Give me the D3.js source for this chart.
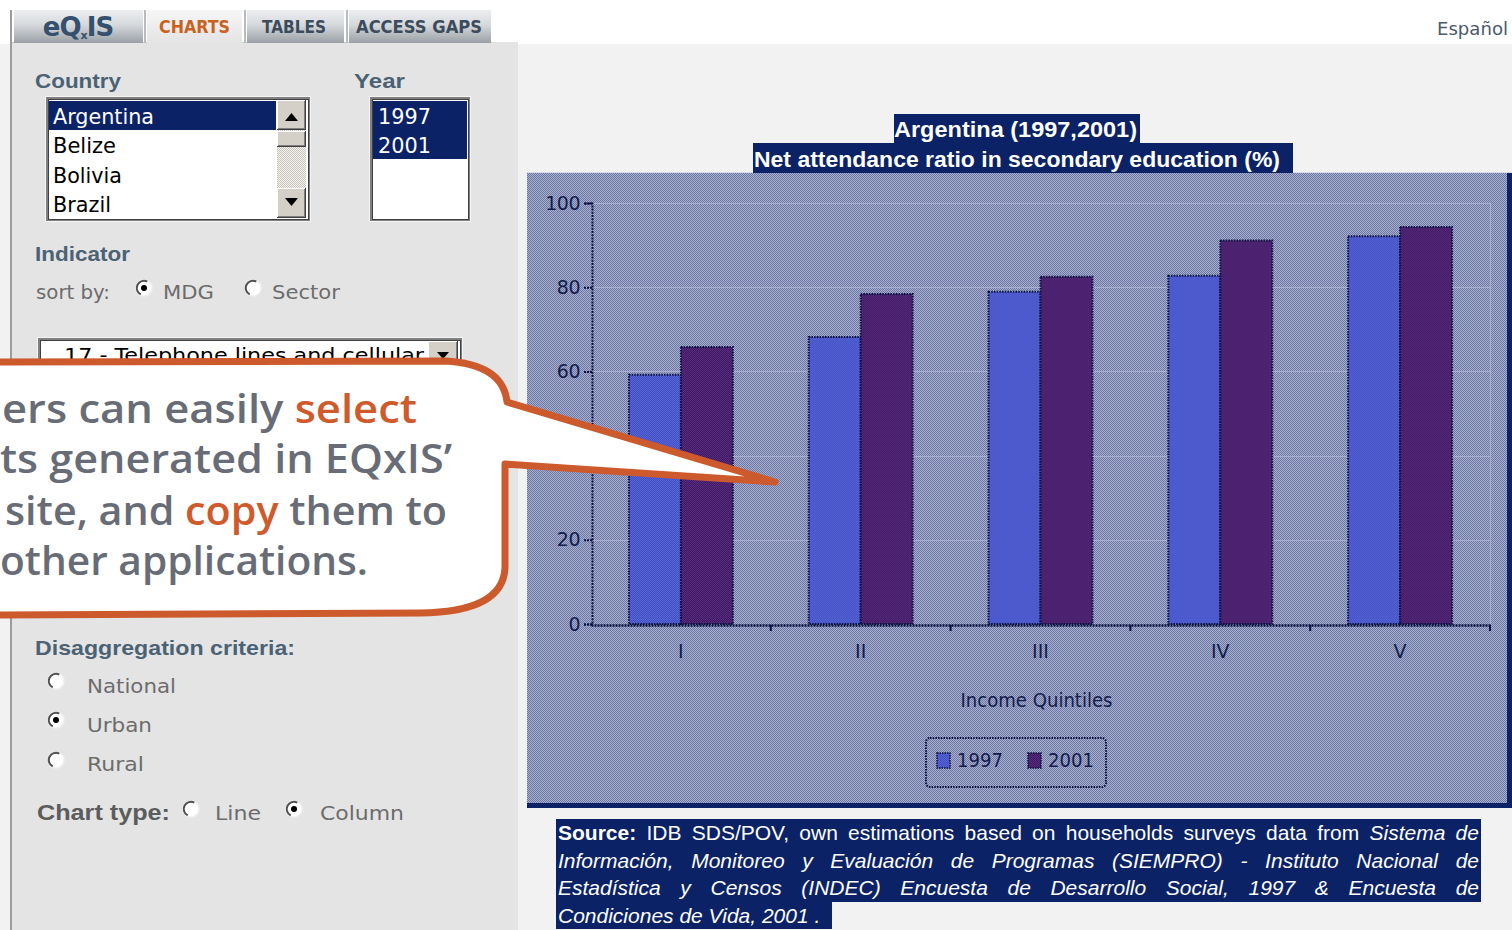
<!DOCTYPE html>
<html><head><meta charset="utf-8">
<script src="https://cdn.jsdelivr.net/npm/d3@7"></script>
<style>
html,body{margin:0;padding:0;width:1512px;height:930px;overflow:hidden;background:#f2f2f2;}
#root{position:relative;width:1512px;height:930px;}
svg{position:absolute;left:0;top:0;}
#src{position:absolute;left:556px;top:819px;width:925px;font-family:"Liberation Sans",Arial,sans-serif;font-size:21px;line-height:27.5px;color:#fff;}
#src .ln{background:#0b2266;text-align:justify;text-align-last:justify;padding:0 2px;white-space:nowrap;}
#src .last{display:inline-block;background:#0b2266;width:272px;padding:0 2px;white-space:nowrap;}
</style></head>
<body><div id="root"></div>
<script>
// ---------- data ----------
const categories = ["I", "II", "III", "IV", "V"];
const series = ["1997", "2001"];
const values1997 = [59.2, 68.2, 78.9, 82.7, 92.1];
const values2001 = [65.8, 78.4, 82.5, 91.1, 94.3];
const yTicks = [0, 20, 40, 60, 80, 100];
const chartTitle = ["Argentina (1997,2001)", "Net attendance ratio in secondary education (%)"];
const xAxisTitle = "Income Quintiles";
const countries = ["Argentina", "Belize", "Bolivia", "Brazil"];
const years = ["1997", "2001"];
const tabs = ["CHARTS", "TABLES", "ACCESS GAPS"];
const calloutLines = [
  [["ers can easily ", 0], ["select", 1]],
  [["ts generated in EQxIS’", 0]],
  [["site, and ", 0], ["copy", 1], [" them to", 0]],
  [["other applications.", 0]]
];
const sourceLines = [
  [["Source:", "b"], [" IDB SDS/POV, own estimations based on households surveys data from ", "n"], ["Sistema de", "i"]],
  [["Información, Monitoreo y Evaluación de Programas (SIEMPRO) - Instituto Nacional de", "i"]],
  [["Estadística y Censos (INDEC) Encuesta de Desarrollo Social, 1997 & Encuesta de", "i"]],
  [["Condiciones de Vida, 2001 .", "i"]]
];

const W = 1512, H = 930;
const root = d3.select("#root");
const svg = root.append("svg").attr("width", W).attr("height", H);
const defs = svg.append("defs");

function dither(id, c1, c2) {
  const p = defs.append("pattern").attr("id", id).attr("patternUnits", "userSpaceOnUse")
    .attr("width", 2).attr("height", 2);
  p.append("rect").attr("width", 2).attr("height", 2).attr("fill", c2).attr("shape-rendering", "crispEdges");
  p.append("rect").attr("width", 1).attr("height", 1).attr("fill", c1).attr("shape-rendering", "crispEdges");
  p.append("rect").attr("x", 1).attr("y", 1).attr("width", 1).attr("height", 1).attr("fill", c1).attr("shape-rendering", "crispEdges");
}
dither("bgPat", "#6e78a6", "#a8afcc");
dither("bluePat", "#4250c4", "#5664d6");
dither("purplePat", "#3e1a62", "#5a2a7e");
dither("trackPat", "#c8c4bc", "#f4f2ee");

const tabGrad = defs.append("linearGradient").attr("id", "tabGrad").attr("x1", 0).attr("y1", 0).attr("x2", 0).attr("y2", 1);
tabGrad.append("stop").attr("offset", 0).attr("stop-color", "#eceef0");
tabGrad.append("stop").attr("offset", 0.45).attr("stop-color", "#d6d9dc");
tabGrad.append("stop").attr("offset", 1).attr("stop-color", "#9aa0a6");
const selGrad = defs.append("linearGradient").attr("id", "selGrad").attr("x1", 0).attr("y1", 0).attr("x2", 0).attr("y2", 1);
selGrad.append("stop").attr("offset", 0).attr("stop-color", "#f6f6f6");
selGrad.append("stop").attr("offset", 1).attr("stop-color", "#e4e4e4");

function txt(g, s, x, y, o) {
  o = o || {};
  const t = g.append("text").attr("x", x).attr("y", y).text(s)
    .attr("font-family", o.ff || "'DejaVu Sans', Verdana, sans-serif")
    .attr("font-size", o.fs || 20)
    .attr("font-weight", o.fw || "normal")
    .attr("fill", o.fill || "#6c6c6c");
  if (o.w) t.attr("textLength", o.w).attr("lengthAdjust", "spacingAndGlyphs");
  if (o.anchor) t.attr("text-anchor", o.anchor);
  if (o.fstyle) t.attr("font-style", o.fstyle);
  return t;
}

// ---------- page background ----------
svg.append("rect").attr("x", 0).attr("y", 0).attr("width", W).attr("height", 44).attr("fill", "#ffffff");
svg.append("rect").attr("x", 12).attr("y", 42).attr("width", 506).attr("height", H - 42).attr("fill", "#e4e4e4");
svg.append("rect").attr("x", 10).attr("y", 10).attr("width", 2).attr("height", H - 10).attr("fill", "#9c9c9c");
svg.append("rect").attr("x", 12).attr("y", 42).attr("width", 480).attr("height", 1).attr("fill", "#c8c8c8");

// tabs
const tabG = svg.append("g");
tabG.append("rect").attr("x", 14).attr("y", 10).attr("width", 129).attr("height", 33).attr("fill", "url(#tabGrad)");
const logo = tabG.append("text").attr("x", 78).attr("y", 36).attr("text-anchor", "middle")
  .attr("font-family", "'DejaVu Sans', sans-serif").attr("font-weight", "bold").attr("font-size", 26)
  .attr("fill", "#34506e").attr("letter-spacing", -1);
logo.append("tspan").text("eQ");
logo.append("tspan").text("x").attr("font-size", 11).attr("dy", 3);
logo.append("tspan").text("IS").attr("dy", -3);
const tabPos = [[147, 95, 159, 71], [247, 97, 262, 64], [349, 142, 356, 126]];
tabs.forEach((t, i) => {
  const p = tabPos[i];
  tabG.append("rect").attr("x", p[0]).attr("y", 10).attr("width", p[1]).attr("height", 33)
    .attr("fill", i === 0 ? "url(#selGrad)" : "url(#tabGrad)");
  tabG.append("rect").attr("x", p[0] - 3).attr("y", 10).attr("width", 2).attr("height", 33).attr("fill", "#b8bcc0");
  txt(tabG, t, p[2], 33, {fs: 17, fw: "bold", fill: i === 0 ? "#c8621f" : "#3c4c5c", w: p[3]});
});
txt(svg, "Español", 1437, 35, {fs: 17, fill: "#4a5a6a", w: 71});

// ---------- left panel ----------
const lp = svg.append("g");
const head = {fs: 21, fw: "bold", fill: "#4b6275", ff: "'Liberation Sans', Arial, sans-serif"};
txt(lp, "Country", 35, 88, Object.assign({w: 86}, head));
txt(lp, "Year", 354, 88, Object.assign({w: 51}, head));
txt(lp, "Indicator", 35, 261, Object.assign({w: 95}, head));
txt(lp, "Disaggregation criteria:", 35, 655, Object.assign({w: 260}, head));
txt(lp, "Chart type:", 37, 820, {fs: 22, fw: "bold", fill: "#5c5c5c", ff: "'Liberation Sans', Arial, sans-serif", w: 133});

function inset(g, x, y, w, h) {
  g.append("rect").attr("x", x).attr("y", y).attr("width", w).attr("height", h).attr("fill", "#f4f4f4");
  g.append("rect").attr("x", x + 1).attr("y", y + 1).attr("width", w - 2).attr("height", h - 2).attr("fill", "#808080");
  g.append("rect").attr("x", x + 3).attr("y", y + 3).attr("width", w - 5).attr("height", h - 5).attr("fill", "#404040");
  g.append("rect").attr("x", x + 4).attr("y", y + 4).attr("width", w - 7).attr("height", h - 7).attr("fill", "#ffffff");
}
function button(g, x, y, w, h) {
  g.append("rect").attr("x", x).attr("y", y).attr("width", w).attr("height", h).attr("fill", "#404040");
  g.append("rect").attr("x", x).attr("y", y).attr("width", w - 1).attr("height", h - 1).attr("fill", "#ffffff");
  g.append("rect").attr("x", x + 1).attr("y", y + 1).attr("width", w - 2).attr("height", h - 2).attr("fill", "#808080");
  g.append("rect").attr("x", x + 1).attr("y", y + 1).attr("width", w - 3).attr("height", h - 3).attr("fill", "#d4d0c8");
}
// country list
inset(lp, 45, 96, 266, 126);
lp.append("rect").attr("x", 49).attr("y", 101).attr("width", 227).attr("height", 29).attr("fill", "#0b2266");
const cw = [101, 63, 69, 58];
countries.forEach((c, i) => {
  txt(lp, c, 53, 124 + i * 29.4, {fs: 21, fill: i === 0 ? "#ffffff" : "#000000", w: cw[i]});
});
lp.append("rect").attr("x", 277).attr("y", 100).attr("width", 29).attr("height", 118).attr("fill", "url(#trackPat)");
button(lp, 277, 100, 29, 30);
button(lp, 277, 131, 29, 16);
button(lp, 277, 188, 29, 30);
lp.append("path").attr("d", "M285,121 L298,121 L291.5,113 Z").attr("fill", "#000");
lp.append("path").attr("d", "M285,198 L298,198 L291.5,206 Z").attr("fill", "#000");
// year list
inset(lp, 369, 96, 102, 126);
lp.append("rect").attr("x", 373).attr("y", 101).attr("width", 94).attr("height", 58).attr("fill", "#0b2266");
years.forEach((y, i) => txt(lp, y, 378, 124 + i * 29.4, {fs: 21, fill: "#ffffff", w: 53}));

// radios
function radio(g, cx, cy, checked) {
  g.append("circle").attr("cx", cx).attr("cy", cy).attr("r", 8).attr("fill", "#ffffff").attr("stroke", "#f0f0f0").attr("stroke-width", 1.5);
  const arc = d3.arc().innerRadius(6.2).outerRadius(8.2).startAngle(-Math.PI * 0.85).endAngle(Math.PI * 0.15);
  g.append("path").attr("d", arc()).attr("transform", `translate(${cx},${cy})`).attr("fill", "#505050");
  if (checked) g.append("circle").attr("cx", cx).attr("cy", cy).attr("r", 3).attr("fill", "#000");
}
txt(lp, "sort by:", 36, 299, {w: 74});
radio(lp, 144, 288, true); txt(lp, "MDG", 163, 299, {w: 51});
radio(lp, 253, 288, false); txt(lp, "Sector", 272, 299, {w: 68});
// dropdown (mostly hidden by callout)
inset(lp, 37, 337, 426, 34);
txt(lp, "17 - Telephone lines and cellular", 64, 362, {fs: 20, fill: "#000", w: 360});
button(lp, 428, 341, 30, 28);
lp.append("path").attr("d", "M437,352 L449,352 L443,359 Z").attr("fill", "#000");

radio(lp, 56, 681, false); txt(lp, "National", 87, 693, {w: 89});
radio(lp, 56, 720, true);  txt(lp, "Urban", 87, 732, {w: 65});
radio(lp, 56, 760, false); txt(lp, "Rural", 87, 771, {w: 57});
radio(lp, 191, 809, false); txt(lp, "Line", 215, 820, {w: 46});
radio(lp, 294, 809, true);  txt(lp, "Column", 320, 820, {w: 84});

// ---------- chart ----------
const cg = svg.append("g");
cg.append("rect").attr("x", 527).attr("y", 173).attr("width", W - 527).attr("height", 635).attr("fill", "url(#bgPat)");
cg.append("rect").attr("x", 527).attr("y", 803).attr("width", W - 527).attr("height", 5).attr("fill", "#0b2266");
cg.append("rect").attr("x", 1507).attr("y", 173).attr("width", 5).attr("height", 635).attr("fill", "#0b2266");
cg.append("rect").attr("x", 527).attr("y", 172).attr("width", W - 527).attr("height", 1).attr("fill", "#d8dce6");

// title
const tg = svg.append("g");
tg.append("rect").attr("x", 894).attr("y", 114).attr("width", 246).attr("height", 30).attr("fill", "#0b2266");
tg.append("rect").attr("x", 753).attr("y", 143).attr("width", 540).attr("height", 30).attr("fill", "#0b2266");
txt(tg, chartTitle[0], 894, 137, {fs: 22, fw: "bold", fill: "#fff", ff: "'Liberation Sans', Arial, sans-serif", w: 243});
txt(tg, chartTitle[1], 754, 167, {fs: 22, fw: "bold", fill: "#fff", ff: "'Liberation Sans', Arial, sans-serif", w: 526});

const x0 = d3.scaleBand().domain(categories).range([591, 1490]).paddingInner(0).paddingOuter(0);
const x1 = d3.scaleBand().domain(series).range([0, x0.bandwidth()]).paddingInner(0).paddingOuter(0.73);
const y = d3.scaleLinear().domain([0, 100]).range([624, 203]);
const color = {"1997": "url(#bluePat)", "2001": "url(#purplePat)"};
const inkDark = "#0a1040";
const labelInk = "#141c4c";

// grid
cg.selectAll("line.grid").data(yTicks.filter(d => d > 0)).join("line").attr("class", "grid")
  .attr("x1", 593).attr("x2", 1490).attr("y1", d => Math.round(y(d)) + 0.5).attr("y2", d => Math.round(y(d)) + 0.5)
  .attr("stroke", "#b4bcd8").attr("stroke-opacity", 0.7);
cg.append("line").attr("x1", 1490.5).attr("x2", 1490.5).attr("y1", y(100)).attr("y2", y(0))
  .attr("stroke", "#b4bcd8").attr("stroke-opacity", 0.7);

// bars
const rows = categories.map((c, i) => ({cat: c, vals: [{s: "1997", v: values1997[i]}, {s: "2001", v: values2001[i]}]}));
const grp = cg.selectAll("g.grp").data(rows).join("g").attr("class", "grp")
  .attr("transform", d => `translate(${x0(d.cat)},0)`);
grp.selectAll("rect").data(d => d.vals).join("rect")
  .attr("x", d => x1(d.s)).attr("width", x1.bandwidth())
  .attr("y", d => y(d.v)).attr("height", d => y(0) - y(d.v))
  .attr("fill", d => color[d.s])
  .attr("stroke", inkDark).attr("stroke-width", 2).attr("stroke-dasharray", "1.5,1.2");

// y axis
const yAxis = d3.axisLeft(y).tickValues(yTicks).tickSize(8).tickPadding(4);
const yg = cg.append("g").attr("transform", "translate(592,0)").call(yAxis);
yg.select(".domain").attr("stroke", inkDark).attr("stroke-width", 2).attr("stroke-dasharray", "2,1.2");
yg.selectAll(".tick line").attr("stroke", inkDark).attr("stroke-width", 2).attr("stroke-dasharray", "2,1");
yg.selectAll(".tick text").attr("font-family", "'DejaVu Sans', sans-serif").attr("font-size", 19)
  .attr("fill", labelInk).attr("letter-spacing", -0.5);

// x axis
const xAxis = d3.axisBottom(x0).tickSize(0).tickPadding(20);
const xg = cg.append("g").attr("transform", `translate(0,${y(0) + 1})`).call(xAxis);
xg.select(".domain").attr("stroke", inkDark).attr("stroke-width", 2.5).attr("stroke-dasharray", "2,1");
xg.selectAll(".tick text").attr("font-family", "'DejaVu Sans', sans-serif").attr("font-size", 19)
  .attr("fill", labelInk);
cg.selectAll("line.xt").data(categories).join("line").attr("class", "xt")
  .attr("x1", d => x0(d) + x0.bandwidth()).attr("x2", d => x0(d) + x0.bandwidth())
  .attr("y1", y(0) + 1).attr("y2", y(0) + 7).attr("stroke", inkDark).attr("stroke-width", 2);
txt(cg, xAxisTitle, (x0.range()[0] + x0.range()[1]) / 2 - 4, 707, {fs: 19, fill: labelInk, anchor: "middle", w: 152});

// legend
const lg = cg.append("g");
lg.append("rect").attr("x", 926).attr("y", 738).attr("width", 180).attr("height", 49).attr("rx", 4)
  .attr("fill", "none").attr("stroke", inkDark).attr("stroke-width", 2).attr("stroke-dasharray", "1.5,1.2");
const legX = [937, 1028];
series.forEach((s, i) => {
  lg.append("rect").attr("x", legX[i]).attr("y", 753).attr("width", 13).attr("height", 15)
    .attr("fill", color[s]).attr("stroke", inkDark).attr("stroke-width", 1.5).attr("stroke-dasharray", "1.5,1");
  txt(lg, s, legX[i] + 20, 767, {fs: 19, fill: labelInk, w: 46});
});

// ---------- callout ----------
const co = svg.append("g");
co.append("path")
  .attr("d", "M-10,362 L445,361 Q503,364 507,402 L775,482 L505,464 L505,568 Q503,612 420,613 L-10,615 Z")
  .attr("fill", "#ffffff").attr("stroke", "#cd5a2c").attr("stroke-width", 7).attr("stroke-linejoin", "round");
const coPos = [[2, 423, 415], [0, 473, 452], [5, 525, 442], [0, 575, 368]];
calloutLines.forEach((ln, i) => {
  const t = co.append("text").attr("x", coPos[i][0]).attr("y", coPos[i][1])
    .attr("font-family", "'Open Sans', 'Noto Sans', sans-serif").attr("font-weight", 600).attr("font-size", 40)
    .attr("textLength", coPos[i][2]).attr("lengthAdjust", "spacingAndGlyphs");
  ln.forEach(seg => t.append("tspan").text(seg[0]).attr("fill", seg[1] ? "#cf5a2b" : "#686c76"));
});

// ---------- source ----------
const src = root.append("div").attr("id", "src");
sourceLines.forEach((ln, i) => {
  const d = src.append("div").attr("class", i < sourceLines.length - 1 ? "ln" : "last");
  ln.forEach(seg => {
    const sp = d.append("span").text(seg[0]);
    if (seg[1] === "b") sp.style("font-weight", "bold");
    if (seg[1] === "i") sp.style("font-style", "italic");
  });
});
</script></body></html>
